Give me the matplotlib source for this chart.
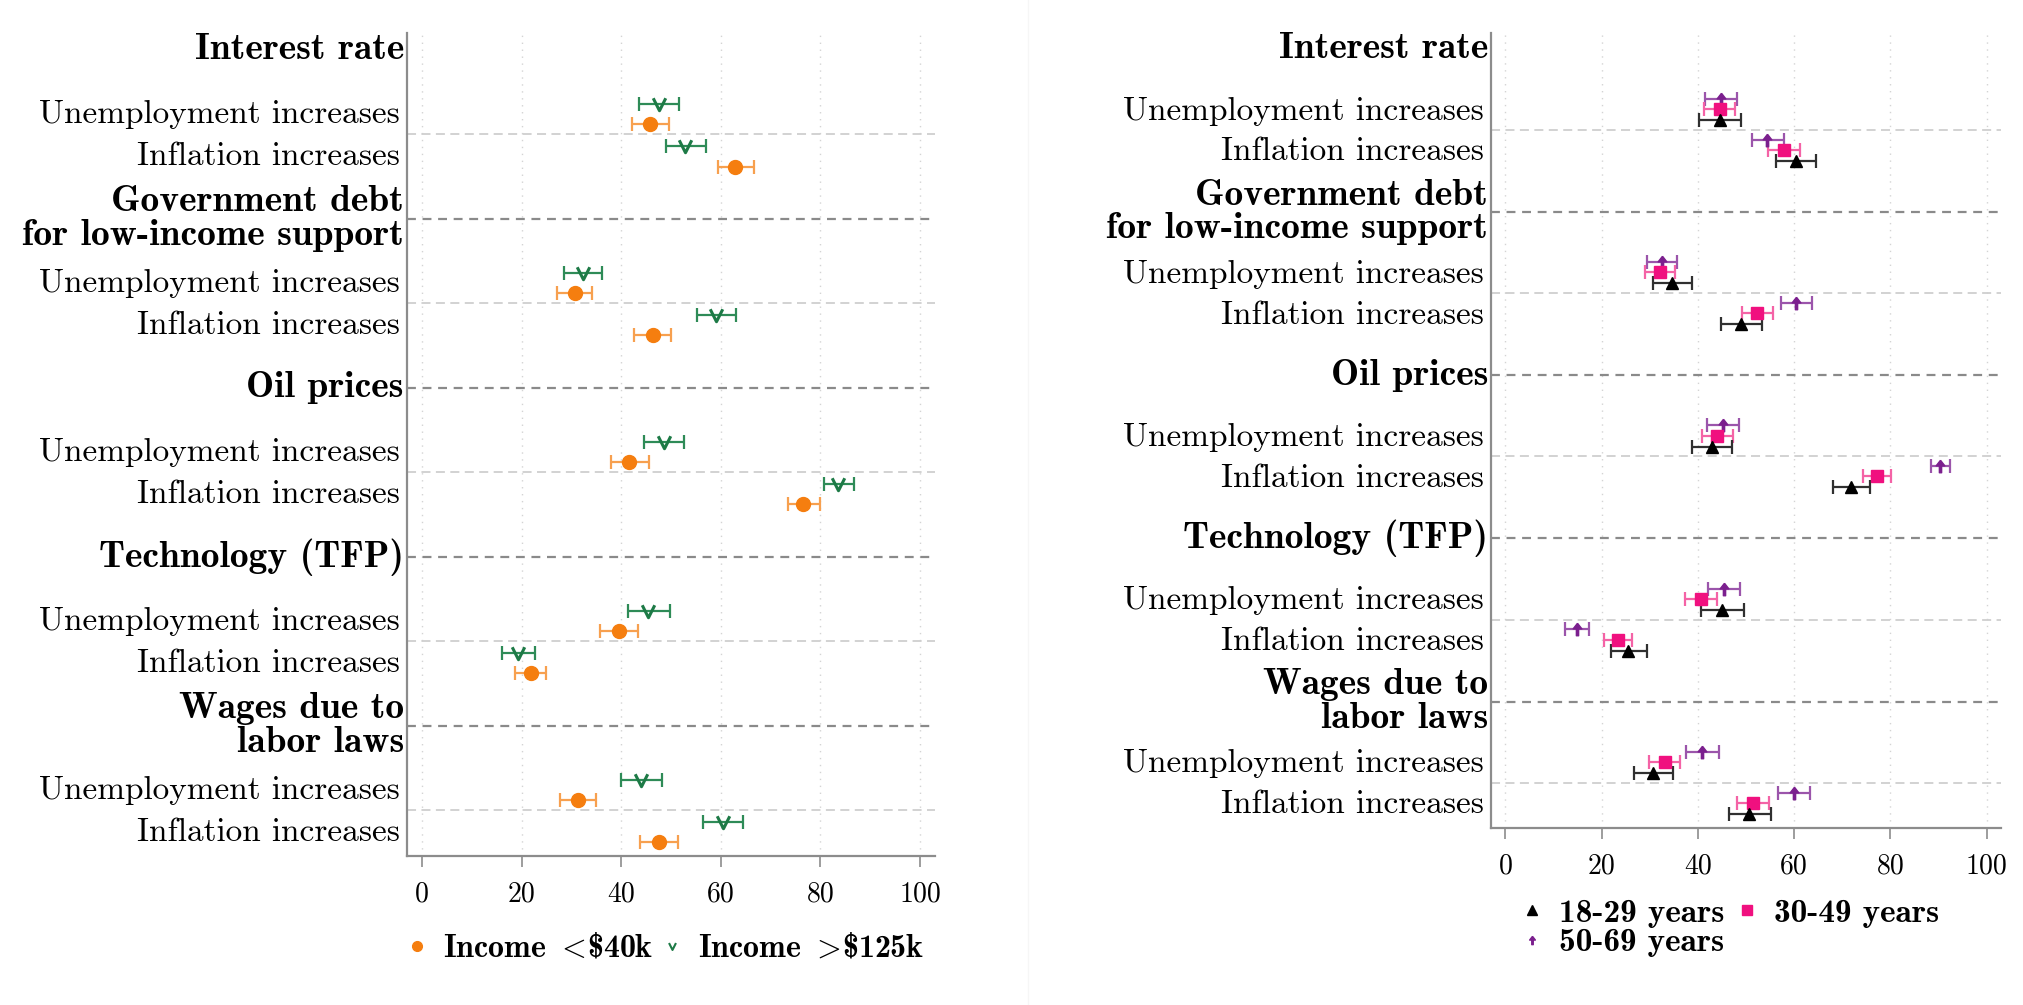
import numpy as np
import matplotlib
matplotlib.use('Agg')
import matplotlib.pyplot as plt
from matplotlib.lines import Line2D

plt.rcParams['font.family'] = ['cmr10', 'DejaVu Serif']
plt.rcParams['mathtext.fontset'] = 'cm'
plt.rcParams['axes.formatter.use_mathtext'] = True

# 数据
shocks = ['Interest rate', 'Government debt\nfor low-income support', 'Oil prices',
          'Technology (TFP)', 'Wages due to\nlabor laws']
outcomes = ['Unemployment increases', 'Inflation increases']

low_inc = [45.8, 62.9, 30.7, 46.3, 41.6, 76.5, 39.5, 21.8, 31.3, 47.5]
low_inc_lo = [42.1, 59.4, 27.1, 42.5, 37.9, 73.4, 35.7, 18.7, 27.8, 43.8]
low_inc_hi = [49.5, 66.6, 34.1, 50.1, 45.5, 80.0, 43.3, 25.0, 34.9, 51.5]
high_inc = [47.5, 52.9, 32.3, 59.0, 48.5, 83.6, 45.4, 19.3, 44.0, 60.5]
high_inc_lo = [43.6, 49.0, 28.6, 55.2, 44.6, 80.8, 41.4, 16.1, 39.9, 56.5]
high_inc_hi = [51.7, 57.1, 36.2, 63.0, 52.7, 86.7, 49.8, 22.7, 48.1, 64.5]

age_18_29 = [44.5, 60.4, 34.7, 49.0, 42.9, 71.9, 45.1, 25.5, 30.7, 50.7]
age_18_29_lo = [40.3, 56.3, 30.7, 44.8, 38.7, 68.0, 40.7, 21.9, 26.8, 46.4]
age_18_29_hi = [48.9, 64.5, 38.8, 53.3, 47.1, 75.8, 49.6, 29.5, 34.8, 55.1]
age_30_49 = [44.5, 57.9, 32.2, 52.3, 44.0, 77.2, 40.6, 23.4, 33.1, 51.5]
age_30_49_lo = [41.3, 54.6, 29.1, 49.2, 40.8, 74.3, 37.3, 20.5, 29.9, 48.2]
age_30_49_hi = [47.8, 61.2, 35.2, 55.6, 47.3, 80.1, 43.9, 26.4, 36.2, 54.8]
age_50_69 = [44.8, 54.4, 32.5, 60.4, 45.2, 90.4, 45.4, 14.8, 40.8, 60.0]
age_50_69_lo = [41.4, 51.2, 29.5, 57.2, 41.9, 88.4, 42.1, 12.3, 37.6, 56.7]
age_50_69_hi = [48.2, 57.8, 35.7, 63.8, 48.6, 92.5, 48.8, 17.3, 44.3, 63.4]

xticks = [0, 20, 40, 60, 80, 100]

# 标记形状
V_MARK = [(-1, 1), (0, -1), (1, 1)]
ARROW_MARK = [(0, 1), (-0.7, 0.1), (-0.18, 0.1), (-0.18, -1), (0.18, -1),
              (0.18, 0.1), (0.7, 0.1), (0, 1)]

LABEL_FS = 24
HEAD_FS = 27
TICK_FS = 20

# 每个冲击块: 标题位置 4k, 两个结果位置 4k+1.45, 4k+2.45
head_pos = np.arange(len(shocks)) * 4.0
coef_pos = np.array([[h + 1.45, h + 2.45] for h in head_pos]).ravel()
coef_labels = outcomes * len(shocks)


def setup_axes(ax, line_gap):
    ax.set_xlim(-3, 103)
    for s in ['top', 'right']:
        ax.spines[s].set_visible(False)
    for s in ['left', 'bottom']:
        ax.spines[s].set_color('#8c8c8c')
        ax.spines[s].set_linewidth(1.6)
    ax.set_xticks(xticks)
    ax.set_xticklabels([str(t) for t in xticks], fontsize=TICK_FS)
    ax.tick_params(axis='x', length=8, width=1.2, color='#8c8c8c', pad=10)
    ax.set_yticks(coef_pos)
    ax.set_yticklabels(coef_labels, fontsize=LABEL_FS)
    ax.tick_params(axis='y', length=0, pad=5)
    for t in xticks:
        ax.axvline(t, color='#d4d4d4', lw=1.0, ls=(0, (1, 4)), zorder=0)
    for k, h in enumerate(head_pos):
        if k > 0:
            ax.axhline(h, color='#8a8a8a', lw=1.6, ls=(0, (4, 3)), zorder=1)
        ax.axhline(h + 1.99, color='#cfcfcf', lw=1.3, ls=(0, (5, 3)), zorder=1)
        lines = shocks[k].split('\n')
        offs = (np.arange(len(lines)) - (len(lines) - 1) / 2) * line_gap
        for line, off in zip(lines, offs):
            ax.text(-0.006, h + off, line, transform=ax.get_yaxis_transform(),
                    ha='right', va='center', family=['cmb10', 'DejaVu Serif'],
                    fontsize=HEAD_FS)


def series(ax, pos, vals, lo, hi, color, ecolor, marker, ms, **kw):
    vals = np.array(vals)
    err = [vals - np.array(lo), np.array(hi) - vals]
    ax.errorbar(vals, pos, xerr=err, fmt='none', ecolor=ecolor, elinewidth=1.6,
                capsize=5, capthick=1.6, zorder=3)
    ax.plot(vals, pos, ls='none', marker=marker, color=color, ms=ms, zorder=4, **kw)


fig = plt.figure(figsize=(20.24, 10.05), dpi=100)
fig.patch.set_facecolor('white')

# 左图: 收入
ax1 = fig.add_axes([407 / 2024, (1005 - 856) / 1005, 528 / 2024, 823 / 1005])
ax1.set_ylim(19.08, -0.4)
setup_axes(ax1, 0.80)
series(ax1, coef_pos - 0.18, high_inc, high_inc_lo, high_inc_hi, '#1d7a46', '#2e8b57',
       V_MARK, 9, mfc='none', mew=2.2)
series(ax1, coef_pos + 0.31, low_inc, low_inc_lo, low_inc_hi, '#f57e0f', '#f7a04f', 'o', 10)

h_low = Line2D([], [], ls='none', marker='o', color='#f57e0f', ms=7)
h_high = Line2D([], [], ls='none', marker=V_MARK, color='#1d7a46', ms=5, mfc='none', mew=1.5)
ax1.legend([h_low, h_high], [r'Income $<\!$\$40k', r'Income $>\!$\$125k'], ncol=2,
           loc='upper center', bbox_to_anchor=(0.49, -0.078), frameon=False,
           prop={'family': 'cmb10', 'size': 23}, handlelength=0.6, handletextpad=0.5,
           columnspacing=0.3, borderaxespad=0)

# 右图: 年龄
ax2 = fig.add_axes([1491 / 2024, (1005 - 828) / 1005, 510 / 2024, 795 / 1005])
ax2.set_ylim(19.1, -0.39)
setup_axes(ax2, 0.83)
series(ax2, coef_pos - 0.22, age_50_69, age_50_69_lo, age_50_69_hi, '#7b1f8e', '#9b55ab',
       ARROW_MARK, 9)
series(ax2, coef_pos + 0.03, age_30_49, age_30_49_lo, age_30_49_hi, '#f0107f', '#f463a6', 's', 9)
series(ax2, coef_pos + 0.30, age_18_29, age_18_29_lo, age_18_29_hi, 'black', '#303030', '^', 9)

h_a = Line2D([], [], ls='none', marker='^', color='black', ms=7)
h_b = Line2D([], [], ls='none', marker='s', color='#f0107f', ms=7)
h_c = Line2D([], [], ls='none', marker=ARROW_MARK, color='#7b1f8e', ms=6)
ax2.legend([h_a, h_c, h_b], ['18-29 years', '50-69 years', '30-49 years'], ncol=2,
           loc='upper center', bbox_to_anchor=(0.47, -0.072), frameon=False,
           prop={'family': 'cmb10', 'size': 24}, handlelength=0.6, handletextpad=0.5,
           columnspacing=0.4, borderaxespad=0, labelspacing=0.0)

# 右图边框
fig.add_artist(Line2D([1028 / 2024, 1028 / 2024], [0.0, 1.0], transform=fig.transFigure,
                      color='#f6f6f6', lw=1.0))

fig.savefig('out.png', dpi=100, facecolor='white')
